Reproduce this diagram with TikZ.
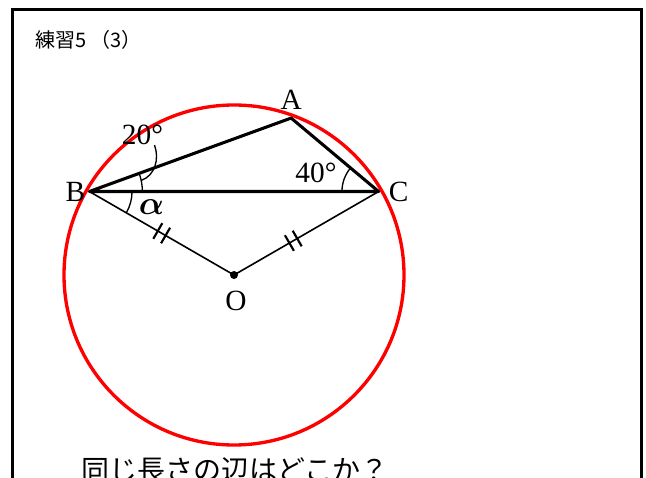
\documentclass[tikz,border=0pt]{standalone}
\usepackage{amsmath}
\usepackage{fontspec}
\setmainfont{Liberation Serif}
\newfontfamily\jpfont{Noto Sans CJK JP}
\usetikzlibrary{calc, angles, decorations.markings}
\definecolor{circlered}{RGB}{255,0,0}

\begin{document}
\begin{tikzpicture}[x=0.75pt, y=0.75pt,
    pointlabel/.style={font=\fontsize{22}{26}\selectfont, inner sep=0pt},
    sideline/.style={line width=2.3pt, line join=round},
    radline/.style={line width=1.2pt},
    twoticks/.style={postaction={decorate}, decoration={markings,
      mark=at position #1 with {\draw[line width=1.6pt] (-4.5,-9) -- (-4.5,9) (4.5,-9) -- (4.5,9);}}},
    anglearc/.style={draw, line width=1pt, angle radius=#1}]
  \useasboundingbox (0,0) rectangle (646,-478);
  \clip (0,0) rectangle (646,-478);
  \draw[line width=2pt] (12.5,-490) -- (12.5,-9.5) -- (641.5,-9.5) -- (641.5,-490);
  \node[anchor=base west, font=\jpfont\fontsize{15}{18}\selectfont, inner sep=0pt] (title) at (35,-48) {練習5 （3）};

  % circle and inscribed triangle
  \coordinate (O) at (234,-275);
  \coordinate (A) at ($(O)+(70:167)$);
  \coordinate (B) at ($(O)+(150:167)$);
  \coordinate (C) at ($(O)+(30:167)$);

  \draw[circlered, line width=2.5pt] (O) circle[radius=170];
  \draw[radline, twoticks=.5] (B) -- (O);
  \draw[radline, twoticks=.59] (C) -- (O);
  \draw[sideline] (B) -- (A) -- (C) -- cycle;
  \fill (O) circle[radius=4];

  \pic[anglearc=39.75pt] {angle=C--B--A};
  \pic[anglearc=32pt] {angle=O--B--C};
  \pic[anglearc=27.5pt] {angle=A--C--B};

  \node[pointlabel] (labA) at ($(A)+(0,18)$) {A};
  \node[pointlabel] (labB) at ($(B)+(-14,0)$) {B};
  \node[pointlabel] (labC) at ($(C)+(20,0)$) {C};
  \node[pointlabel] (labO) at ($(O)+(2,-26)$) {O};
  \node[pointlabel] (ang20) at (142.5,-135) {20°};
  \node[pointlabel] (ang40) at (316,-172.5) {40°};
  \node[pointlabel, font=\fontsize{27}{30}\selectfont] (alpha) at (151.5,-207.5) {$\boldsymbol{\alpha}$};
  \draw[line width=1pt] ([shift={(12:53)}]B) to[out=20, in=-70] ([shift={(12,-10)}]ang20.center);

  \node[anchor=base, font=\jpfont\fontsize{21}{24}\selectfont, inner sep=0pt] (question) at (235,-480) {同じ長さの辺はどこか？};
\end{tikzpicture}
\end{document}
